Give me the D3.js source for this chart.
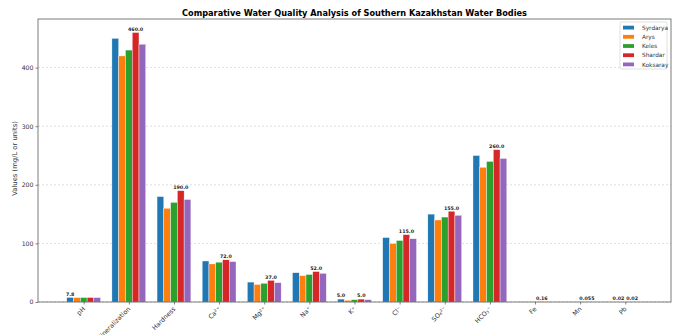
<!DOCTYPE html>
<html>
<head>
<meta charset="utf-8">
<script src="https://cdn.jsdelivr.net/npm/d3@7"></script>
<style>
  html, body { margin: 0; padding: 0; background: #fff; }
  svg { display: block; font-family: "DejaVu Sans", sans-serif; }
</style>
</head>
<body>
<svg id="chart" width="674" height="335"></svg>
<script>
// Water quality parameters (mg/L, pH in units)
const categories = ["pH", "Mineralization", "Hardness", "Ca²⁺", "Mg²⁺", "Na⁺", "K⁺", "Cl⁻", "SO₄²⁻", "HCO₃⁻", "Fe", "Mn", "Pb"];
const seriesNames = ["Syrdarya", "Arys", "Keles", "Shardar", "Koksaray"];
const syrdarya = [7.8, 450, 180, 70, 34, 50, 5.0, 110, 150, 250, 0.10, 0.040, 0.01];
const arys     = [7.6, 420, 160, 65, 30, 45, 3.0, 100, 140, 230, 0.12, 0.045, 0.02];
const keles    = [7.7, 430, 170, 68, 32, 47, 4.0, 105, 145, 240, 0.14, 0.050, 0.015];
const shardar  = [7.7, 460, 190, 72, 37, 52, 5.0, 115, 155, 260, 0.16, 0.055, 0.02];
const koksaray = [7.6, 440, 175, 69, 33, 49, 4.0, 108, 148, 245, 0.13, 0.048, 0.01];
const seriesValues = [syrdarya, arys, keles, shardar, koksaray];
const colors = ["#1f77b4", "#ff7f0e", "#2ca02c", "#d62728", "#9467bd"];
const yTicks = [0, 100, 200, 300, 400];

const svg = d3.select("#chart");
const margin = { left: 38, right: 3, top: 19, bottom: 33 };
const W = 674, H = 335;
const plotW = W - margin.left - margin.right;
const plotH = H - margin.top - margin.bottom;

const barW = 0.15;
const nS = seriesNames.length;
// Linear x in category units, with 5% padding on each side of the bar extent
const lo = -barW * nS / 2, hi = categories.length - 1 + barW * nS / 2;
const pad = (hi - lo) * 0.05;
const x = d3.scaleLinear().domain([lo - pad, hi + pad]).range([margin.left, margin.left + plotW]);

const allMax = d3.max(seriesValues.flat());
const y = d3.scaleLinear().domain([0, allMax * 1.05]).range([margin.top + plotH, margin.top]);

const g = svg.append("g");

// Horizontal dashed grid
g.append("g")
  .selectAll("line")
  .data(yTicks)
  .join("line")
  .attr("x1", margin.left).attr("x2", margin.left + plotW)
  .attr("y1", d => y(d)).attr("y2", d => y(d))
  .attr("stroke", "#b0b0b0").attr("stroke-width", 0.6)
  .attr("stroke-dasharray", "2,2").attr("opacity", 0.7);

// Bars
seriesValues.forEach((vals, si) => {
  const off = (si - (nS - 1) / 2) * barW;
  g.append("g")
    .selectAll("rect")
    .data(vals)
    .join("rect")
    .attr("x", (d, i) => x(i + off - barW / 2))
    .attr("width", x(barW) - x(0))
    .attr("y", d => y(d))
    .attr("height", d => y(0) - y(d))
    .attr("fill", colors[si])
    .attr("stroke", "#ffffff")
    .attr("stroke-width", 0.4);
});

// Value labels on the highest bar(s) of each parameter
categories.forEach((c, i) => {
  const vals = seriesValues.map(s => s[i]);
  const m = d3.max(vals);
  vals.forEach((v, si) => {
    if (v !== m) return;
    const off = (si - (nS - 1) / 2) * barW;
    const txt = v >= 1 ? d3.format(".1f")(v) : String(v);
    g.append("text")
      .attr("x", x(i + off))
      .attr("y", y(v) - 1.6)
      .attr("text-anchor", "middle")
      .attr("font-size", 4.8)
      .attr("font-weight", "bold")
      .attr("fill", "#222")
      .text(txt);
  });
});

// Axes
const xAxis = d3.axisBottom(x)
  .tickValues(d3.range(categories.length))
  .tickFormat(i => categories[i])
  .tickSize(2.5).tickPadding(2);
const xg = svg.append("g")
  .attr("transform", `translate(0,${margin.top + plotH})`)
  .call(xAxis);
xg.select(".domain").remove();
xg.selectAll(".tick line").attr("stroke", "#333").attr("stroke-width", 0.6);
xg.selectAll(".tick text")
  .attr("font-size", 6.4)
  .attr("fill", "#333")
  .attr("font-family", "DejaVu Sans, sans-serif")
  .attr("text-anchor", "end")
  .attr("dy", "0.5em")
  .attr("transform", "translate(-4,2) rotate(-45)");

const yAxis = d3.axisLeft(y).tickValues(yTicks).tickSize(2.5).tickPadding(2);
const yg = svg.append("g")
  .attr("transform", `translate(${margin.left},0)`)
  .call(yAxis);
yg.select(".domain").remove();
yg.selectAll(".tick line").attr("stroke", "#333").attr("stroke-width", 0.6);
yg.selectAll(".tick text")
  .attr("font-size", 6.2)
  .attr("fill", "#333")
  .attr("font-family", "DejaVu Sans, sans-serif");

// Frame
svg.append("rect")
  .attr("x", margin.left).attr("y", margin.top)
  .attr("width", plotW).attr("height", plotH)
  .attr("fill", "none").attr("stroke", "#444").attr("stroke-width", 0.7);

// Y label
svg.append("text")
  .attr("transform", `translate(17,${margin.top + plotH / 2 - 2}) rotate(-90)`)
  .attr("text-anchor", "middle")
  .attr("font-size", 6.8)
  .attr("fill", "#333")
  .text("Values (mg/L or units)");

// Title
svg.append("text")
  .attr("x", margin.left + plotW / 2)
  .attr("y", 15.8)
  .attr("text-anchor", "middle")
  .attr("font-size", 8.2)
  .attr("font-weight", "bold")
  .attr("fill", "#000")
  .text("Comparative Water Quality Analysis of Southern Kazakhstan Water Bodies");

// Legend
const lg = svg.append("g").attr("transform", "translate(620,22)");
lg.append("rect")
  .attr("width", 47).attr("height", 47).attr("rx", 1.5)
  .attr("fill", "#fff").attr("fill-opacity", 0.85)
  .attr("stroke", "#ccc").attr("stroke-width", 0.6);
seriesNames.forEach((n, i) => {
  const row = lg.append("g").attr("transform", `translate(3,${5.5 + i * 9.2})`);
  row.append("rect").attr("x", 0).attr("y", -1.8).attr("width", 11).attr("height", 3.8).attr("fill", colors[i]);
  row.append("text").attr("x", 19).attr("y", 2.2).attr("font-size", 5.8).attr("fill", "#333").text(n);
});
</script>
</body>
</html>
